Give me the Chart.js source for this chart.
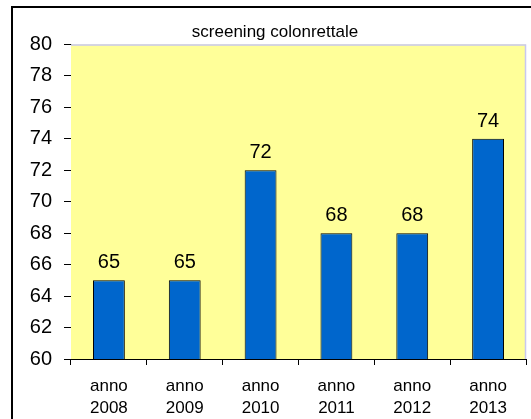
<!DOCTYPE html>
<html>
<head>
<meta charset="utf-8">
<script src="https://cdn.jsdelivr.net/npm/chart.js@4/dist/chart.umd.min.js"></script>
<style>
  html, body { margin: 0; padding: 0; background: #ffffff; }
  #wrap { position: relative; width: 531px; height: 419px; overflow: hidden; }
  #frame { position: absolute; left: 11px; top: 6px; width: 600px; height: 500px;
           border-left: 2px solid #000; border-top: 2px solid #000; box-sizing: border-box; }
  canvas { position: absolute; left: 0; top: 0; }
</style>
</head>
<body>
<div id="wrap">
  <div id="frame"></div>
  <canvas id="c" width="531" height="419"></canvas>
</div>
<script>
// Coverage of colorectal screening by year
const years = ["2008", "2009", "2010", "2011", "2012", "2013"];
const categories = years.map(y => ["anno", y]);
const coverage = [65, 65, 72, 68, 68, 74];
const yTicks = { min: 60, max: 80, step: 2 };
const chartTitle = "screening colonrettale";

const FONT = "'Liberation Sans', Arial, sans-serif";

// Yellow plot background with a light lavender frame on top and right
const plotBackground = {
  id: 'plotBackground',
  beforeDatasetsDraw(chart) {
    const { ctx, chartArea: a } = chart;
    ctx.save();
    ctx.fillStyle = '#FFFF99';
    ctx.fillRect(a.left, a.top, a.right - a.left, a.bottom - a.top);
    ctx.strokeStyle = '#C8C8F0';
    ctx.lineWidth = 1.5;
    ctx.beginPath();
    ctx.moveTo(a.left, a.top + 0.5);
    ctx.lineTo(a.right - 0.5, a.top + 0.5);
    ctx.lineTo(a.right - 0.5, a.bottom);
    ctx.stroke();
    ctx.restore();
  }
};

// Value printed above each bar
const valueLabels = {
  id: 'valueLabels',
  afterDatasetsDraw(chart) {
    const { ctx } = chart;
    const meta = chart.getDatasetMeta(0);
    ctx.save();
    ctx.font = '20px ' + FONT;
    ctx.fillStyle = '#000';
    ctx.textAlign = 'center';
    ctx.textBaseline = 'alphabetic';
    meta.data.forEach((bar, i) => {
      ctx.fillText(String(chart.data.datasets[0].data[i]), bar.x, bar.y - 12);
    });
    ctx.restore();
  }
};

new Chart(document.getElementById('c'), {
  type: 'bar',
  data: {
    labels: categories,
    datasets: [{
      data: coverage,
      backgroundColor: '#0066CC',
      borderColor: '#000000',
      borderWidth: 1,
      borderSkipped: false,
      barPercentage: 0.42,
      categoryPercentage: 1.0
    }]
  },
  options: {
    responsive: false,
    animation: false,
    devicePixelRatio: 1,
    layout: { padding: { left: 24, right: 5, top: 0, bottom: 0 } },
    plugins: {
      legend: { display: false },
      tooltip: { enabled: false },
      title: {
        display: true,
        text: chartTitle,
        color: '#000',
        font: { family: FONT, size: 17, weight: 'normal', lineHeight: 1.2 },
        padding: { top: 22, bottom: 2 }
      }
    },
    scales: {
      x: {
        grid: { drawOnChartArea: false, drawTicks: true, tickLength: 6, color: '#000', offset: true },
        border: { display: true, color: '#000', width: 1 },
        ticks: {
          color: '#000',
          font: { family: FONT, size: 17, lineHeight: 1.25 },
          padding: 11,
          maxRotation: 0,
          autoSkip: false
        },
        afterFit(scale) { scale.height = 60; }
      },
      y: {
        min: yTicks.min,
        max: yTicks.max,
        grid: { drawOnChartArea: false, drawTicks: true, tickLength: 7, color: '#000' },
        border: { display: true, color: '#000', width: 1 },
        ticks: {
          stepSize: yTicks.step,
          color: '#000',
          font: { family: FONT, size: 20 },
          padding: 12
        },
        afterFit(scale) { scale.width = 47; }
      }
    }
  },
  plugins: [plotBackground, valueLabels]
});
</script>
</body>
</html>
